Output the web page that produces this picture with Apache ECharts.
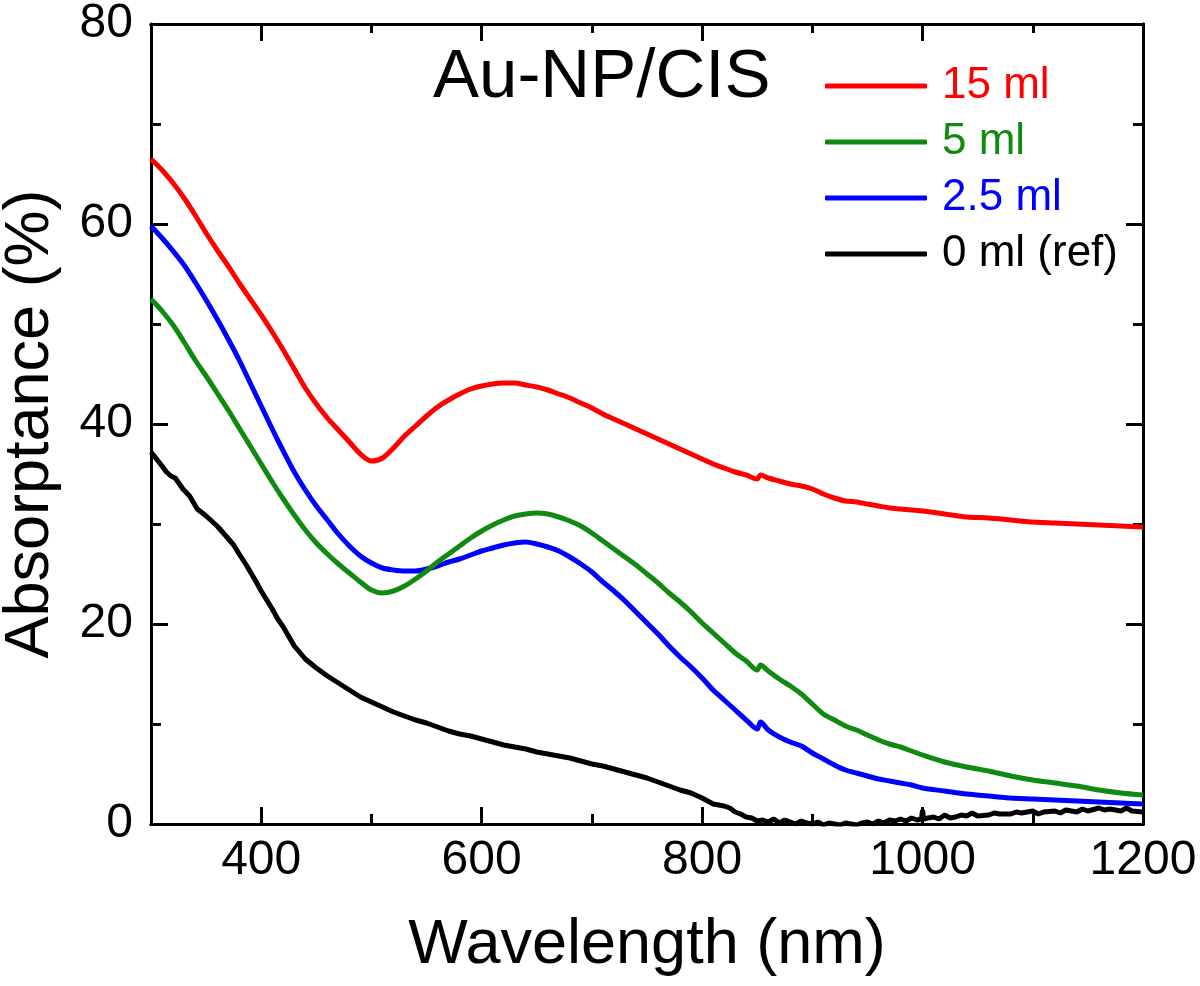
<!DOCTYPE html>
<html>
<head>
<meta charset="utf-8">
<script src="https://cdn.jsdelivr.net/npm/echarts@6/dist/echarts.min.js"></script>
<style>html,body{margin:0;padding:0;background:#fff}#c{width:1200px;height:986px}</style>
</head>
<body>
<div id="c"></div>
<script>
// ---- data ----
const seriesNames = ['15 ml', '5 ml', '2.5 ml', '0 ml (ref)'];
const seriesColors = ['#ff0000', '#108a10', '#0000ff', '#000000'];

const wlRed = [300,310,320,330,340,350,360,370,380,390,400,410,420,430,440,450,460,470,480,490,500,510,520,530,540,550,560,570,580,590,600,610,620,630,640,650,660,670,680,690,700,710,720,730,740,750,760,770,780,790,800,810,820,830,840,850,853,860,870,880,890,900,910,920,930,940,950,960,970,980,990,1000,1020,1040,1060,1080,1100,1120,1140,1160,1180,1200];
const valRed = [66.5,65.4,64.1,62.6,60.9,59.1,57.4,55.8,54.1,52.5,50.9,49.2,47.4,45.5,43.6,42.0,40.6,39.4,38.2,37.0,36.3,36.6,37.6,38.8,39.8,40.8,41.7,42.4,43.0,43.5,43.8,44.0,44.1,44.1,43.9,43.7,43.4,43.0,42.6,42.1,41.6,41.0,40.5,40.0,39.5,39.0,38.5,38.0,37.5,37.0,36.5,36.0,35.6,35.2,34.9,34.5,34.9,34.6,34.3,34.0,33.8,33.5,33.0,32.6,32.3,32.2,32.0,31.8,31.6,31.5,31.4,31.3,31.0,30.7,30.6,30.4,30.2,30.1,30.0,29.9,29.8,29.7];

const wlGreen = [300,310,320,330,340,350,360,370,380,390,400,410,420,430,440,450,460,470,480,490,500,510,520,530,540,550,560,570,580,590,600,610,620,630,640,650,660,670,680,690,700,710,720,730,740,750,760,770,780,790,800,810,820,830,840,850,853,860,870,880,890,900,910,920,930,940,950,960,970,980,990,1000,1020,1040,1060,1080,1100,1120,1140,1160,1180,1200];
const valGreen = [52.5,51.3,49.9,48.2,46.4,44.8,43.1,41.4,39.6,37.8,36.0,34.2,32.5,30.9,29.4,28.1,27.0,26.0,25.1,24.2,23.4,23.1,23.3,23.8,24.5,25.3,26.2,27.0,27.8,28.6,29.3,29.9,30.4,30.8,31.0,31.1,31.0,30.7,30.3,29.8,29.1,28.3,27.5,26.7,25.9,25.0,24.1,23.1,22.2,21.2,20.1,19.1,18.1,17.1,16.3,15.4,15.9,15.3,14.5,13.8,13.0,12.0,11.0,10.4,9.8,9.4,8.9,8.4,8.0,7.7,7.3,6.9,6.2,5.7,5.3,4.8,4.4,4.1,3.8,3.4,3.1,2.9];

const wlBlue = [300,310,320,330,340,350,360,370,380,390,400,410,420,430,440,450,460,470,480,490,500,510,520,530,540,550,560,570,580,590,600,610,620,630,640,650,660,670,680,690,700,710,720,730,740,750,760,770,780,790,800,810,820,830,840,850,853,860,870,880,890,900,910,920,930,940,950,960,970,980,990,1000,1020,1040,1060,1080,1100,1120,1140,1160,1180,1200];
const valBlue = [59.8,58.6,57.3,55.9,54.2,52.4,50.5,48.5,46.4,44.1,41.8,39.5,37.3,35.2,33.4,31.8,30.4,29.0,27.8,26.8,26.1,25.6,25.4,25.3,25.3,25.5,25.8,26.2,26.5,26.9,27.3,27.6,27.9,28.1,28.2,28.0,27.7,27.3,26.7,26.0,25.2,24.2,23.3,22.3,21.2,20.1,19.0,17.8,16.7,15.7,14.6,13.4,12.4,11.4,10.4,9.5,10.2,9.4,8.7,8.2,7.8,7.1,6.5,5.9,5.4,5.1,4.8,4.5,4.3,4.1,3.9,3.6,3.3,3.0,2.8,2.6,2.5,2.4,2.3,2.2,2.1,2.0];

const wlBlack = [300,305,310,314,318,322,329,335,342,350,360,368,375,380,387,395,400,405,410,415,420,430,440,450,460,470,480,490,500,510,520,530,540,550,560,570,580,590,600,610,620,630,640,650,660,670,680,690,700,710,720,730,740,750,760,770,780,790,800,805,810,815,820,825,830,835,840,845,850,855,860,865,870,875,880,885,890,895,900,905,910,915,920,925,930,935,940,945,950,955,960,965,970,975,980,985,990,995,999,1000,1001,1005,1010,1015,1020,1025,1030,1035,1040,1045,1050,1060,1065,1070,1080,1085,1090,1100,1105,1110,1120,1125,1130,1140,1145,1150,1160,1165,1170,1180,1185,1190,1200];
const valBlack = [37.2,36.5,35.8,35.2,34.8,34.6,33.5,32.8,31.5,30.8,29.8,28.8,27.9,27.0,25.8,24.3,23.3,22.4,21.5,20.5,19.7,17.8,16.5,15.6,14.8,14.1,13.4,12.7,12.2,11.7,11.2,10.8,10.4,10.1,9.7,9.3,9.0,8.8,8.5,8.2,7.9,7.7,7.5,7.2,7.0,6.8,6.6,6.3,6.0,5.8,5.5,5.2,4.9,4.6,4.2,3.8,3.4,3.1,2.6,2.3,2.0,1.9,1.8,1.6,1.2,1.0,0.7,0.6,0.3,0.4,0.2,0.5,0.1,0.4,0.2,0.0,0.3,0.1,0.0,0.2,-0.1,0.1,0.0,-0.1,0.1,0.0,-0.1,0.1,0.2,0.0,0.3,0.1,0.4,0.3,0.5,0.3,0.6,0.4,0.5,1.4,0.5,0.6,0.7,0.5,0.9,0.6,0.7,0.9,0.8,1.1,0.8,0.9,1.1,1.0,1.0,1.2,1.1,1.3,1.0,1.2,1.3,1.1,1.4,1.2,1.5,1.3,1.6,1.4,1.5,1.3,1.6,1.3,1.2];

const xMajorTicks = [400, 600, 800, 1000, 1200];
const xMinorTicks = [500, 700, 900, 1100];
const yMajorTicks = [0, 20, 40, 60, 80];
const yMinorTicks = [10, 30, 50, 70];

const titleText = 'Au-NP/CIS';
const xName = 'Wavelength (nm)';
const yName = 'Absorptance (%)';

// ---- chart ----
const FONT = '"Liberation Sans", Arial, sans-serif';
const zip = (a, b) => a.map((x, i) => [x, b[i]]);
const seriesData = [zip(wlRed, valRed), zip(wlGreen, valGreen), zip(wlBlue, valBlue), zip(wlBlack, valBlack)];

function xAx(pos, ticks, len, opts) {
  return Object.assign({
    type: 'value', position: pos, min: 300, max: 1200,
    axisLine: { show: true, onZero: false, lineStyle: { color: '#000', width: 3 } },
    axisTick: { show: true, inside: true, length: len, customValues: ticks, lineStyle: { color: '#000', width: 3 } },
    axisLabel: { show: false },
    splitLine: { show: false }
  }, opts || {});
}
function yAx(pos, ticks, len, opts) {
  return Object.assign({
    type: 'value', position: pos, min: 0, max: 80,
    axisLine: { show: true, onZero: false, lineStyle: { color: '#000', width: 3 } },
    axisTick: { show: true, inside: true, length: len, customValues: ticks, lineStyle: { color: '#000', width: 3 } },
    axisLabel: { show: false },
    splitLine: { show: false }
  }, opts || {});
}

const chart = echarts.init(document.getElementById('c'), null, { renderer: 'canvas' });
chart.setOption({
  backgroundColor: '#fff',
  animation: false,
  textStyle: { fontFamily: FONT },
  title: {
    text: titleText, left: 433, top: 43, padding: 0,
    textStyle: { fontFamily: FONT, fontSize: 69, fontWeight: 'normal', color: '#000' }
  },
  legend: {
    orient: 'vertical', left: 825, top: 64, padding: 0,
    itemWidth: 102, itemHeight: 5, itemGap: 12, icon: 'roundRect',
    data: seriesNames.map((n, i) => ({ name: n, textStyle: { color: seriesColors[i] } })),
    textStyle: { fontFamily: FONT, fontSize: 44, padding: [0, 0, 0, 10], lineHeight: 44 }
  },
  grid: { left: 151, right: 57, top: 24, bottom: 162, containLabel: false, outerBoundsMode: 'none' },
  xAxis: [
    xAx('bottom', xMajorTicks, 17, {
      name: xName, nameLocation: 'middle', nameGap: 90,
      nameTextStyle: { fontFamily: FONT, fontSize: 63, color: '#000' },
      axisLabel: { show: true, customValues: xMajorTicks, margin: 13, fontSize: 48, color: '#000', fontFamily: FONT,
        formatter: v => String(v) }
    }),
    xAx('bottom', xMinorTicks, 10),
    xAx('top', xMajorTicks, 17),
    xAx('top', xMinorTicks, 9)
  ],
  yAxis: [
    yAx('left', yMajorTicks, 17, {
      name: yName, nameLocation: 'middle', nameGap: 89,
      nameTextStyle: { fontFamily: FONT, fontSize: 63, color: '#000' },
      axisLabel: { show: true, customValues: yMajorTicks, margin: 18, fontSize: 48, color: '#000', fontFamily: FONT,
        formatter: v => String(v) }
    }),
    yAx('left', yMinorTicks, 10),
    yAx('right', yMajorTicks, 17),
    yAx('right', yMinorTicks, 10)
  ],
  series: seriesNames.map((n, i) => ({
    name: n, type: 'line', xAxisIndex: 0, yAxisIndex: 0,
    data: seriesData[i], showSymbol: false, symbol: 'none', smooth: i < 3 ? 0.3 : false,
    lineStyle: { color: seriesColors[i], width: 5 },
    itemStyle: { color: seriesColors[i] },
    z: 10 - i
  }))
});
</script>
</body>
</html>
